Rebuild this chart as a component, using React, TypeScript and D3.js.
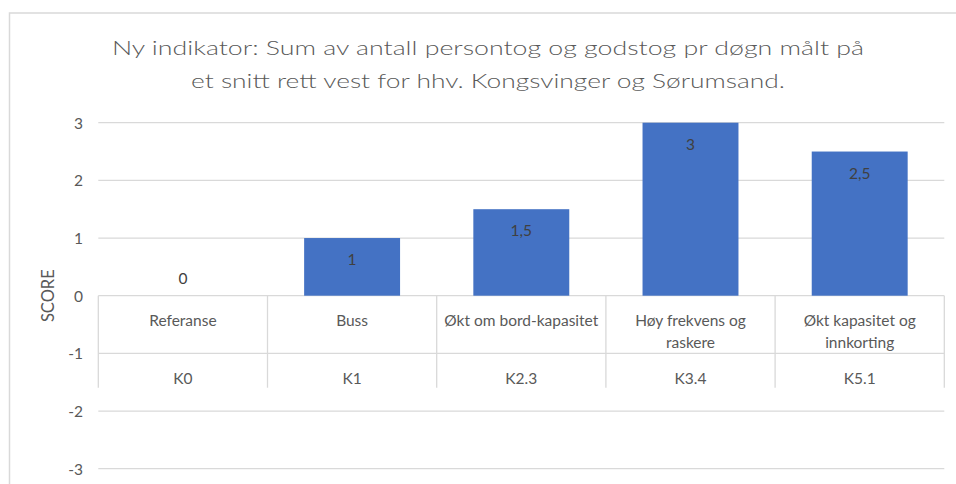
import * as d3 from "d3";
import React from "react";

const mainWidth = 956;
const mainHeight = 484;

const titleLines = [
  "Ny indikator: Sum av antall persontog og godstog pr døgn målt på",
  "et snitt rett vest for hhv. Kongsvinger og Sørumsand.",
];
const categoryLines = [
  ["Referanse"],
  ["Buss"],
  ["Økt om bord-kapasitet"],
  ["Høy frekvens og", "raskere"],
  ["Økt kapasitet og", "innkorting"],
];
const codes = ["K0", "K1", "K2.3", "K3.4", "K5.1"];
const scores = [0, 1, 1.5, 3, 2.5];
const yTicks = [-3, -2, -1, 0, 1, 2, 3];
const yLabel = "SCORE";

const plot = { left: 98.3, right: 944.3, top: 122.7, bottom: 468.7 };
const font = "Lato, 'Open Sans', sans-serif";
const textColor = "#595959";
const gridColor = "#d9d9d9";
const barColor = "#4472c4";
const labelSize = 15.5;

const nb = d3.formatLocale({
  decimal: ",",
  thousands: " ",
  grouping: [3],
  currency: ["", " kr"],
});
const fmt = (v: number) => nb.format("~g")(v);

export default function App() {
  const y = d3.scaleLinear().domain([-3, 3]).range([plot.bottom, plot.top]);
  const cells = d3.scaleBand().domain(codes).range([plot.left, plot.right]).padding(0);
  const x = d3
    .scaleBand()
    .domain(codes)
    .range([plot.left, plot.right])
    .paddingInner(0.433)
    .paddingOuter(0.433 / 2);

  const zeroY = y(0);
  const tableBottom = zeroY + 92;
  const row1 = zeroY + 24;
  const row2 = y(-1) + 24.5;

  return (
    <svg
      width={mainWidth}
      height={mainHeight}
      style={{ position: "absolute", left: 0, top: 0, background: "#fff" }}
      fontFamily={font}
    >
      {/* chart frame: only top and left edges are visible */}
      <path d={`M9.5,${mainHeight} V13 H${mainWidth}`} fill="none" stroke={gridColor} strokeWidth={1.5} />

      {titleLines.map((t, i) => (
        <text
          key={i}
          x={488}
          y={47 + i * 33}
          textAnchor="middle"
          dominantBaseline="central"
          fontSize={20}
          fontWeight={300}
          fill={textColor}
          textLength={i === 0 ? 752 : 594}
          lengthAdjust="spacingAndGlyphs"
        >
          {t}
        </text>
      ))}

      {/* gridlines */}
      {yTicks.map((t) => (
        <line
          key={t}
          x1={plot.left}
          x2={plot.right}
          y1={y(t)}
          y2={y(t)}
          stroke={gridColor}
          strokeWidth={1.3}
        />
      ))}

      {/* y tick labels */}
      {yTicks.map((t) => (
        <text
          key={t}
          x={83}
          y={y(t)}
          textAnchor="end"
          dominantBaseline="central"
          fontSize={labelSize}
          fill={textColor}
        >
          {t}
        </text>
      ))}

      <text
        transform={`translate(48,${zeroY}) rotate(-90)`}
        textAnchor="middle"
        dominantBaseline="central"
        fontSize={16.5}
        fill={textColor}
      >
        {yLabel}
      </text>

      {/* bars */}
      {scores.map((v, i) => (
        <rect
          key={codes[i]}
          x={x(codes[i])}
          width={x.bandwidth()}
          y={y(Math.max(0, v))}
          height={Math.abs(y(v) - zeroY)}
          fill={barColor}
        />
      ))}

      {/* value labels */}
      {scores.map((v, i) => (
        <text
          key={codes[i]}
          x={x(codes[i])! + x.bandwidth() / 2}
          y={v > 0 ? y(v) + 21 : zeroY - 18}
          textAnchor="middle"
          dominantBaseline="central"
          fontSize={labelSize}
          fill="#404040"
        >
          {fmt(v)}
        </text>
      ))}

      {/* category table */}
      {[...codes.map((c) => cells(c)!), plot.right].map((bx, i) => (
        <line
          key={i}
          x1={bx}
          x2={bx}
          y1={zeroY}
          y2={tableBottom}
          stroke={gridColor}
          strokeWidth={1.3}
        />
      ))}
      {categoryLines.map((lines, i) => (
        <text
          key={codes[i]}
          x={cells(codes[i])! + cells.bandwidth() / 2}
          textAnchor="middle"
          dominantBaseline="central"
          fontSize={labelSize}
          fill={textColor}
        >
          {lines.map((l, j) => (
            <tspan key={j} x={cells(codes[i])! + cells.bandwidth() / 2} y={row1 + j * 22}>
              {l}
            </tspan>
          ))}
        </text>
      ))}
      {codes.map((c) => (
        <text
          key={c}
          x={cells(c)! + cells.bandwidth() / 2}
          y={row2}
          textAnchor="middle"
          dominantBaseline="central"
          fontSize={labelSize}
          fill={textColor}
        >
          {c}
        </text>
      ))}
    </svg>
  );
}
